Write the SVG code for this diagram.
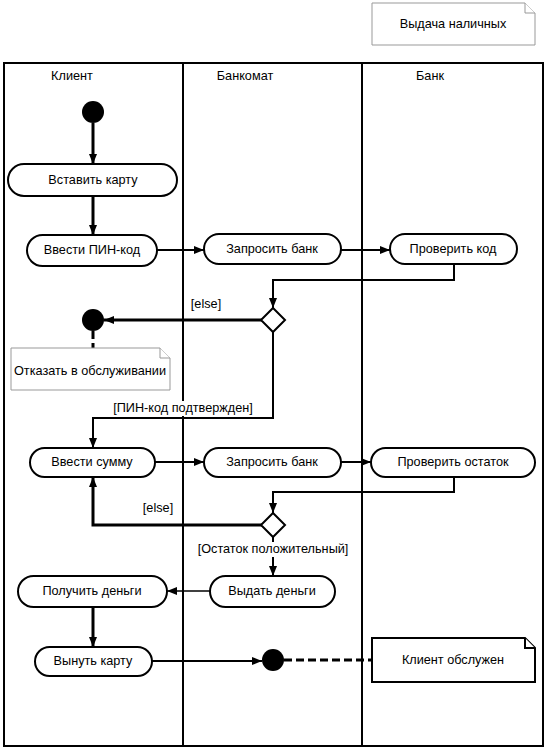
<svg xmlns="http://www.w3.org/2000/svg" width="547" height="750" viewBox="0 0 547 750">
<style>
text{font-family:"Liberation Sans",Arial,sans-serif;font-size:12.7px;fill:#000;text-anchor:middle;dominant-baseline:central}
.act{fill:#fff;stroke:#000;stroke-width:2}
.lane{fill:none;stroke:#000;stroke-width:2}
.c2{fill:none;stroke:#000;stroke-width:2}
.c3{fill:none;stroke:#000;stroke-width:3}
.c1{fill:none;stroke:#000;stroke-width:1.3}
.dash{fill:none;stroke:#000;stroke-width:3;stroke-dasharray:8,4}
.note{fill:#fff;stroke:#999;stroke-width:1}
.noteb{fill:#fff;stroke:#000;stroke-width:2}
.dot{fill:#000}
.dia{fill:#fff;stroke:#000;stroke-width:2}
</style>
<defs>
<marker id="ah" markerWidth="10" markerHeight="8" refX="10" refY="4" orient="auto" markerUnits="userSpaceOnUse"><path d="M0,0 L10,4 L0,8 z" fill="#000"/></marker>
</defs>
<rect width="547" height="750" fill="#fff"/>
<g id="lanes">
<rect class="lane" x="4" y="63" width="539" height="683"/>
<line class="lane" x1="183" y1="63" x2="183" y2="746"/>
<line class="lane" x1="362" y1="63" x2="362" y2="746"/>
<text x="72" y="76">Клиент</text>
<text x="245" y="76">Банкомат</text>
<text x="430" y="76">Банк</text>
</g>
<g id="note-title">
<path class="note" d="M372,3 H525 L535,13 V45 H372 Z"/>
<path class="note" d="M525,3 V13 H535"/>
<text x="453" y="24">Выдача наличных</text>
</g>
<g id="connectors">
<line class="c3" x1="93" y1="123" x2="93" y2="164" marker-end="url(#ah)"/>
<line class="c3" x1="93" y1="196" x2="93" y2="235" marker-end="url(#ah)"/>
<line class="c2" x1="157" y1="250" x2="204" y2="250" marker-end="url(#ah)"/>
<line class="c2" x1="341" y1="250" x2="390" y2="250" marker-end="url(#ah)"/>
<polyline class="c2" points="454,264 454,280 273,280 273,308" marker-end="url(#ah)"/>
<line class="c3" x1="262" y1="320" x2="104" y2="320" marker-end="url(#ah)"/>
<line class="dash" x1="93" y1="331" x2="93" y2="348"/>
<polyline class="c2" points="273,332 273,418 93,418 93,448" marker-end="url(#ah)"/>
<line class="c2" x1="155" y1="462" x2="204" y2="462" marker-end="url(#ah)"/>
<line class="c2" x1="341" y1="462" x2="371" y2="462" marker-end="url(#ah)"/>
<polyline class="c2" points="454,476 454,492 273,492 273,513" marker-end="url(#ah)"/>
<polyline class="c3" points="262,525 93,525 93,477" marker-end="url(#ah)"/>
<line class="c2" x1="273" y1="537" x2="273" y2="576" marker-end="url(#ah)"/>
<line class="c1" x1="210" y1="591" x2="167" y2="591" marker-end="url(#ah)"/>
<line class="c3" x1="93" y1="607" x2="93" y2="647" marker-end="url(#ah)"/>
<line class="c2" x1="152" y1="661" x2="262" y2="661" marker-end="url(#ah)"/>
<line class="dash" x1="284" y1="660" x2="372" y2="660"/>
<text x="206" y="304">[else]</text>
<rect x="108" y="401" width="150" height="15" fill="#fff"/>
<text x="183" y="408">[ПИН-код подтвержден]</text>
<text x="158" y="508">[else]</text>
<rect x="192" y="542" width="162" height="15" fill="#fff"/>
<text x="273" y="549">[Остаток положительный]</text>
</g>
<g id="start"><circle class="dot" cx="93" cy="112" r="11"/></g>
<g id="a1"><rect class="act" x="8" y="164" width="169" height="32" rx="16"/><text x="93" y="180">Вставить карту</text></g>
<g id="a2"><rect class="act" x="27" y="235" width="130" height="31" rx="15.5"/><text x="92" y="250">Ввести ПИН-код</text></g>
<g id="a3"><rect class="act" x="204" y="234" width="137" height="30" rx="15"/><text x="272" y="249">Запросить банк</text></g>
<g id="a4"><rect class="act" x="390" y="234" width="127" height="30" rx="15"/><text x="453" y="249">Проверить код</text></g>
<g id="d1"><path class="dia" d="M273,308 L285,320 L273,332 L261,320 Z"/></g>
<g id="end1"><circle class="dot" cx="93" cy="320" r="11"/></g>
<g id="note-deny">
<path class="note" d="M11,348 H160 L170,358 V390 H11 Z"/>
<path class="note" d="M160,348 V358 H170"/>
<text x="90" y="371">Отказать в обслуживании</text>
</g>
<g id="a5"><rect class="act" x="30" y="448" width="125" height="29" rx="14.5"/><text x="92" y="462">Ввести сумму</text></g>
<g id="a6"><rect class="act" x="204" y="448" width="137" height="29" rx="14.5"/><text x="272" y="462">Запросить банк</text></g>
<g id="a7"><rect class="act" x="371" y="448" width="164" height="29" rx="14.5"/><text x="453" y="462">Проверить остаток</text></g>
<g id="d2"><path class="dia" d="M273,513 L285,525 L273,537 L261,525 Z"/></g>
<g id="a8"><rect class="act" x="210" y="576" width="125" height="31" rx="15.5"/><text x="272" y="591">Выдать деньги</text></g>
<g id="a9"><rect class="act" x="18" y="576" width="149" height="31" rx="15.5"/><text x="92" y="591">Получить деньги</text></g>
<g id="a10"><rect class="act" x="35" y="647" width="117" height="29" rx="14.5"/><text x="93" y="661">Вынуть карту</text></g>
<g id="end2"><circle class="dot" cx="273" cy="660" r="11"/></g>
<g id="note-done">
<path class="noteb" d="M372,638 H525 L535,648 V682 H372 Z"/>
<path class="noteb" d="M525,638 V648 H535"/>
<text x="453" y="660">Клиент обслужен</text>
</g>
</svg>
